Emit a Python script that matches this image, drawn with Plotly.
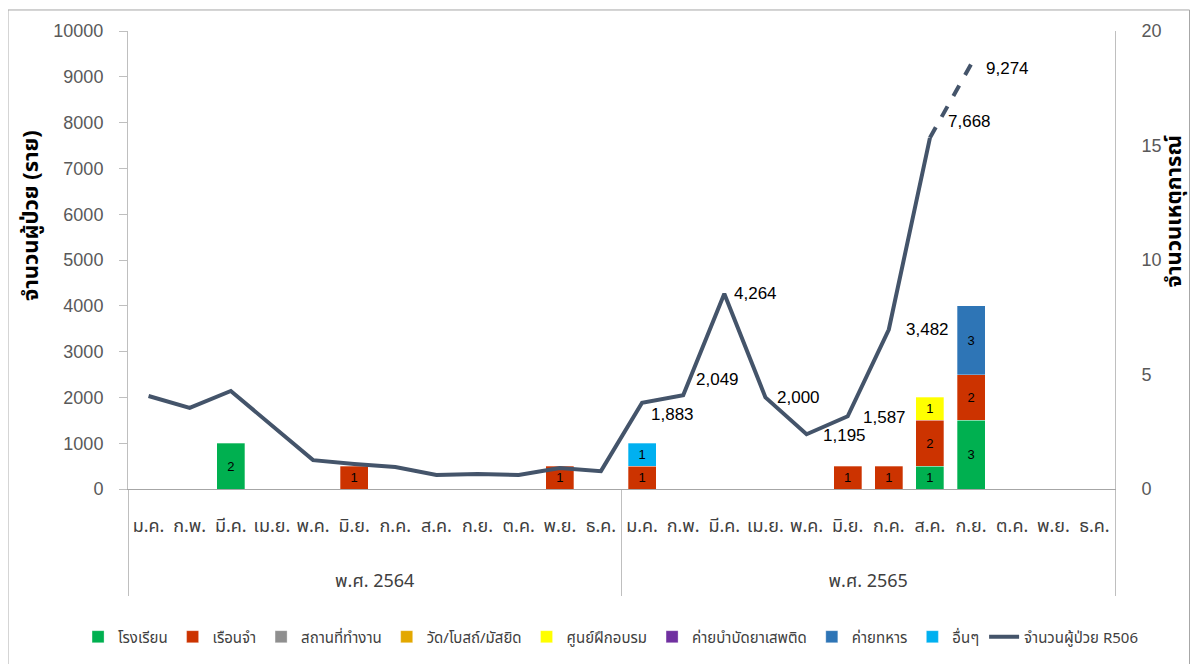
import plotly.graph_objects as go

# ---------------- data ----------------
month_names = ["ม.ค.", "ก.พ.", "มี.ค.", "เม.ย.", "พ.ค.", "มิ.ย.",
               "ก.ค.", "ส.ค.", "ก.ย.", "ต.ค.", "พ.ย.", "ธ.ค."]
year_names = ["พ.ศ. 2564", "พ.ศ. 2565"]
years = [year_names[0]] * 12 + [year_names[1]] * 12
months = month_names * 2

# patients R506 (cases), Jan 2564 .. Aug 2565 (solid line)
cases = [2030, 1770, 2140, 1375, 630, 545, 480, 305, 330, 305, 460, 390,
         1883, 2049, 4264, 2000, 1195, 1587, 3482, 7668]
# dashed segment Aug 2565 -> Sep 2565
dash_idx = [19, 20]
dash_cases = [7668, 9274]

# clusters (events) per setting, 24 months
school    = [None, None, 2, None, None, None, None, None, None, None, None, None,
             None, None, None, None, None, None, None, 1, 3, None, None, None]
prison    = [None, None, None, None, None, 1, None, None, None, None, 1, None,
             1, None, None, None, None, 1, 1, 2, 2, None, None, None]
workplace = [None] * 24
temple    = [None] * 24
training  = [None] * 19 + [1] + [None] * 4
rehab     = [None] * 24
military  = [None] * 20 + [3] + [None] * 3
other     = [None] * 12 + [1] + [None] * 11

bar_names = ["โรงเรียน", "เรือนจำ", "สถานที่ทำงาน", "วัด/โบสถ์/มัสยิด",
             "ศูนย์ฝึกอบรม", "ค่ายบำบัดยาเสพติด", "ค่ายทหาร", "อื่นๆ"]
bar_values = [school, prison, workplace, temple, training, rehab, military, other]
bar_colors = ["#00B050", "#CC3300", "#8F8F8F", "#E3A800",
              "#FFFF00", "#7030A0", "#2E75B6", "#00B0F0"]

# labelled points of the case line
label_idx  = [12, 13, 14, 15, 16, 17, 18, 19, 20]
label_vals = [1883, 2049, 4264, 2000, 1195, 1587, 3482, 7668, 9274]
label_txt  = ["1,883", "2,049", "4,264", "2,000", "1,195", "1,587", "3,482", "7,668", "9,274"]
label_dx   = [7, 11, 8, 10, 14, 13, 15, 16, 13]
label_dy   = [-12, 16, 0, 0, -1, -1, 0, 16, -4]

LINE_COLOR = "#44546A"
NUM_FONT = "'Liberation Sans Narrow', 'Liberation Sans', Arial, sans-serif"
LBL_FONT = "'Liberation Sans', Arial, sans-serif"
THAI_FONT = "'Liberation Sans Narrow', 'Noto Sans Thai', 'Noto Sans', sans-serif"

fig = go.Figure()

# year group labels pushed down (blank lines) to sit well below the month labels
year_lbl = ["<br><br>" + y for y in years]

for name, vals, col in zip(bar_names, bar_values, bar_colors):
    fig.add_trace(go.Bar(
        x=[year_lbl, months], y=vals, name=name,
        marker=dict(color=col, line=dict(color="rgba(255,255,255,0.6)", width=0.5)),
        texttemplate="%{y}", textposition="inside", insidetextanchor="middle",
        textangle=0, textfont=dict(color="#000000", size=13, family=LBL_FONT),
        yaxis="y", hoverinfo="skip",
    ))

fig.add_trace(go.Scatter(
    x=[year_lbl[:len(cases)], months[:len(cases)]], y=cases,
    mode="lines", name="จำนวนผู้ป่วย R506",
    line=dict(color=LINE_COLOR, width=4), yaxis="y2",
))
fig.add_trace(go.Scatter(
    x=[[year_lbl[i] for i in dash_idx], [months[i] for i in dash_idx]], y=dash_cases,
    mode="lines", showlegend=False,
    line=dict(color=LINE_COLOR, width=4, dash="dash"), yaxis="y2",
))

annotations = []
for i, v, t, dx, dy in zip(label_idx, label_vals, label_txt, label_dx, label_dy):
    annotations.append(dict(
        x=i, y=v, xref="x", yref="y2", text=t, showarrow=False,
        xanchor="left", yanchor="middle", xshift=dx, yshift=dy,
        font=dict(size=17, color="#000000", family=LBL_FONT),
    ))

# axis titles
annotations.append(dict(
    x=-0.0983, y=0.598, xref="paper", yref="paper", text="<b>จำนวนผู้ป่วย (ราย)</b>",
    textangle=-90, showarrow=False, xanchor="center", yanchor="middle",
    font=dict(size=22, color="#000000", family=THAI_FONT),
))
annotations.append(dict(
    x=1.0612, y=0.607, xref="paper", yref="paper", text="<b>จำนวนเหตุการณ์</b>",
    textangle=-90, showarrow=False, xanchor="center", yanchor="middle",
    font=dict(size=22, color="#000000", family=THAI_FONT),
))

fig.update_layout(
    width=1182, height=656,
    barmode="stack", bargap=0.32,
    paper_bgcolor="white", plot_bgcolor="white",
    margin=dict(l=120, r=75, t=23, b=175, autoexpand=False),
    font=dict(family=THAI_FONT, size=17, color="#404040"),
    xaxis=dict(
        tickangle=0, showline=True, linecolor="#A6A6A6", linewidth=1,
        showdividers=True, dividercolor="#BFBFBF", dividerwidth=1,
        tickfont=dict(size=18, color="#404040", family=THAI_FONT),
        ticklabelstandoff=20,
        showgrid=False, zeroline=False, automargin=False,
    ),
    yaxis=dict(
        side="right", range=[0, 20], dtick=5, showgrid=False, zeroline=False,
        showline=True, linecolor="#BFBFBF", ticks="",
        tickfont=dict(size=18, color="#595959", family=NUM_FONT),
        ticklabelstandoff=22, automargin=False,
    ),
    yaxis2=dict(
        overlaying="y", side="left", range=[0, 10000], dtick=1000, tickformat="d",
        showgrid=False, zeroline=False, showline=True, linecolor="#BFBFBF",
        ticks="outside", ticklen=8, tickcolor="#BFBFBF",
        tickfont=dict(size=18, color="#595959", family=NUM_FONT),
        ticklabelstandoff=12, automargin=False,
    ),
    legend=dict(
        orientation="h", traceorder="normal", xref="paper",
        x=-0.0506, xanchor="left", y=-0.323, yanchor="middle",
        font=dict(size=15, color="#404040", family=THAI_FONT),
        itemwidth=30, tracegroupgap=0, bgcolor="rgba(0,0,0,0)",
    ),
    annotations=annotations,
    shapes=[dict(
        type="rect", xref="paper", yref="paper",
        x0=-0.1216, x1=1.0755, y0=-0.45, y1=1.0459,
        line=dict(color="#A6A6A6", width=1), fillcolor="rgba(0,0,0,0)", layer="below",
    )],
)

fig.write_html("out.html")
